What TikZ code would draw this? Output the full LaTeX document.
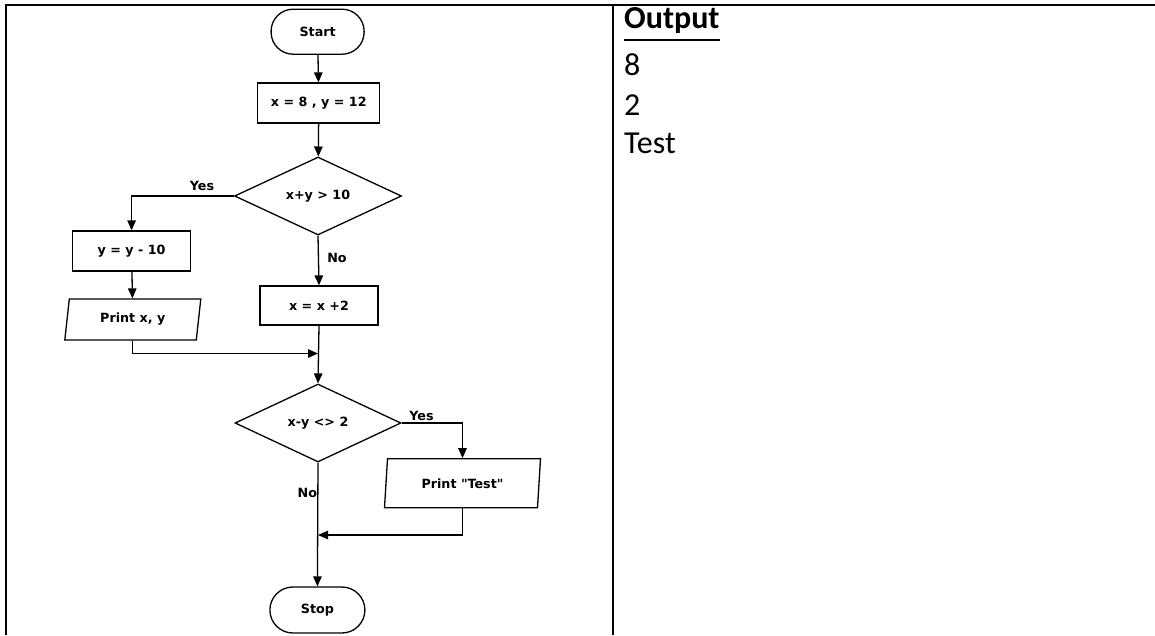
\documentclass[tikz,border=0pt]{standalone}
\usepackage{fontspec}
\setmainfont{DejaVu Sans}
\newfontfamily\calfont{Carlito}
\usetikzlibrary{shapes.geometric,arrows.meta}
\begin{document}
\begin{tikzpicture}[x=1pt,y=-1pt,
  fc/.style={font=\fontsize{12.7}{14}\selectfont\bfseries, draw, line width=1.3pt, inner sep=0pt},
  term/.style={fc, rectangle, rounded corners=22pt, minimum width=93pt, minimum height=45pt},
  proc/.style={fc, rectangle, minimum width=120pt, minimum height=40pt},
  dec/.style={fc, diamond, minimum width=167pt, minimum height=78pt, aspect=2.15},
  io/.style={fc, trapezium, trapezium stretches body=true},
  conn/.style={line width=1.3pt, -{Triangle[length=10pt,width=8.5pt]}},
  lab/.style={font=\fontsize{12.7}{14}\selectfont\bfseries, inner sep=0pt},
  tbl/.style={line width=2.2pt},
  outtxt/.style={font=\calfont\fontsize{32}{39}\selectfont, anchor=base west, inner sep=0pt}
]
\useasboundingbox (0,0) rectangle (1155,635);
% table lines
\draw[tbl] (4.5,5) -- (60,5);
\draw[line width=1.2pt] (60,5) -- (557,5);
\draw[tbl] (557,5) -- (1155,5);
\draw[tbl] (5.7,4) -- (5.7,635);
\draw[tbl] (613,4) -- (613,635);
% flowchart nodes
\node[term] (start) at (317.6,31.7) {Start};
\node[proc, minimum width=122pt] (b1) at (318.8,103) {x = 8 , y = 12};
\node[dec] (d1) at (318,196) {x+y > 10};
\node[proc, minimum width=118pt] (b2) at (131.6,251) {y = y - 10};
\node[io, trapezium left angle=70, trapezium right angle=110, minimum width=136pt, minimum height=41pt] (p1) at (132.8,319.5) {Print x, y};
\node[proc, minimum width=118pt, minimum height=39pt] (b3) at (319,305.5) {x = x +2};
\node[dec, minimum width=166pt] (d2) at (318,423) {x-y <> 2};
\node[io, trapezium left angle=73, trapezium right angle=107, minimum width=156pt, minimum height=49pt] (p2) at (462.5,483.3) {Print \textquotedbl Test\textquotedbl};
\node[term, minimum width=95pt, minimum height=46pt, rounded corners=23pt] (stop) at (317.4,610) {Stop};
\coordinate (j1) at (318,353.5);
\coordinate (j2) at (318,535);
% connectors
\draw[conn] (start) -- (b1);
\draw[conn] (b1) -- (d1);
\draw[conn] (d1.west) -| (b2.north);
\draw[conn] (b2) -- (p1);
\draw[conn] (p1.south) |- (j1);
\draw[conn] (d1.south) -- (b3.north);
\draw[conn] (b3.south) -- (d2.north);
\draw[conn] (d2.east) -| (p2.north);
\draw[conn] (p2.south) |- (j2);
\draw[conn] (d2.south) -- (stop.north);
% labels
\node[lab] (y1) at (202,186) {Yes};
\node[lab] (n1) at (337,258) {No};
\node[lab] (y2) at (421.5,415.5) {Yes};
\node[lab] (n2) at (307.3,493) {No};
% output column
\node[outtxt, font=\calfont\fontsize{32}{39}\selectfont\bfseries] (out) at (624,28.3) {Output};
\draw[line width=2.2pt] ([yshift=-11.5pt]out.base west) -- ([yshift=-11.5pt]out.base east);
\node[outtxt] (o1) at (624,75) {8};
\node[outtxt] (o2) at (624,115) {2};
\node[outtxt] (o3) at (624,153) {Test};
\end{tikzpicture}
\end{document}
